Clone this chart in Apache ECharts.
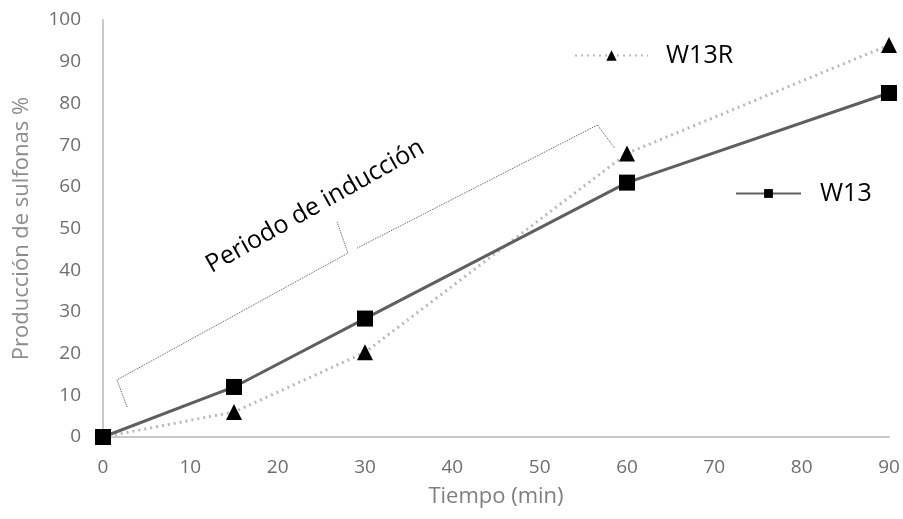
<!DOCTYPE html>
<html><head><meta charset="utf-8">
<script src="https://cdn.jsdelivr.net/npm/echarts@6/dist/echarts.min.js"></script>
<style>html,body{margin:0;padding:0;background:#fff}#c{width:903px;height:519px}</style>
</head><body><div id="c"></div>
<script>
const times = [0, 15, 30, 60, 90];
const w13 = [0, 12, 28.4, 61, 82.5];
const w13r = [0, 6, 20.3, 68, 94];
const braceLower = [[2.75, 7.2], [1.6, 13.7], [28.05, 44.1], [26.8, 51.6]];
const braceUpper = [[29.1, 45.3], [56.6, 74.8], [58.6, 69.3]];
const annotationPos = [24.3, 55.3];

const chart = echarts.init(document.getElementById('c'));
const font = '"Open Sans", Lato, sans-serif';
const option = {
  animation: false,
  grid: {left: 103, right: 14, top: 20, bottom: 82, outerBoundsMode: 'none', containLabel: false},
  xAxis: {
    type: 'value', min: 0, max: 90, interval: 10,
    name: 'Tiempo (min)', nameLocation: 'middle', nameGap: 49,
    nameTextStyle: {color: '#7f7f7f', fontSize: 22, fontFamily: font},
    axisLine: {lineStyle: {color: '#c8c8c8', width: 2}},
    axisTick: {show: false}, splitLine: {show: false},
    axisLabel: {color: '#6e6e6e', fontSize: 19, fontFamily: font, margin: 21}
  },
  yAxis: {
    type: 'value', min: 0, max: 100, interval: 10,
    name: 'Producción de sulfonas %', nameLocation: 'middle', nameGap: 70,
    nameTextStyle: {color: '#8c8c8c', fontSize: 22, fontFamily: font},
    axisLine: {show: true, lineStyle: {color: '#c8c8c8', width: 2}},
    axisTick: {show: false}, splitLine: {show: false},
    axisLabel: {color: '#6e6e6e', fontSize: 19, fontFamily: font, margin: 22}
  },
  legend: [
    {data: ['W13R'], left: 569, top: 38, itemWidth: 73, itemHeight: 13, itemGap: 10,
     textStyle: {fontSize: 25, color: '#000', fontFamily: font, padding: [0,0,0,13]}},
    {data: ['W13'], left: 730, top: 176, itemWidth: 65, itemHeight: 11,
     textStyle: {fontSize: 25, color: '#000', fontFamily: font, padding: [0,0,0,14]}}
  ],
  series: [
    {name: 'W13', type: 'line', data: times.map((t, i) => [t, w13[i]]),
     symbol: 'rect', symbolSize: 16, itemStyle: {color: '#000'},
     lineStyle: {color: '#5f5f5f', width: 3}, z: 3},
    {name: 'W13R', type: 'line', data: times.map((t, i) => [t, w13r[i]]),
     symbol: 'triangle', symbolSize: 16, itemStyle: {color: '#000'},
     lineStyle: {color: '#b8b8b8', width: 3, type: [2, 4]}, z: 2}
  ]
};
chart.setOption(option);
const toPx = p => chart.convertToPixel({gridIndex: 0}, p);
const lp = braceLower.map(toPx), up = braceUpper.map(toPx);
const tp = toPx(annotationPos);
chart.setOption({
  graphic: [
    {type: 'polyline', shape: {points: lp}, style: {stroke: '#555', lineWidth: 1, fill: null, lineDash: [1, 1]}, silent: true},
    {type: 'polyline', shape: {points: up}, style: {stroke: '#555', lineWidth: 1, fill: null, lineDash: [1, 1]}, silent: true},
    {type: 'text', x: tp[0], y: tp[1], rotation: 29.5 * Math.PI / 180,
     style: {text: 'Periodo de inducción', fontSize: 25, fontFamily: font, fill: '#000', align: 'center', verticalAlign: 'middle'}}
  ]
});
</script></body></html>
